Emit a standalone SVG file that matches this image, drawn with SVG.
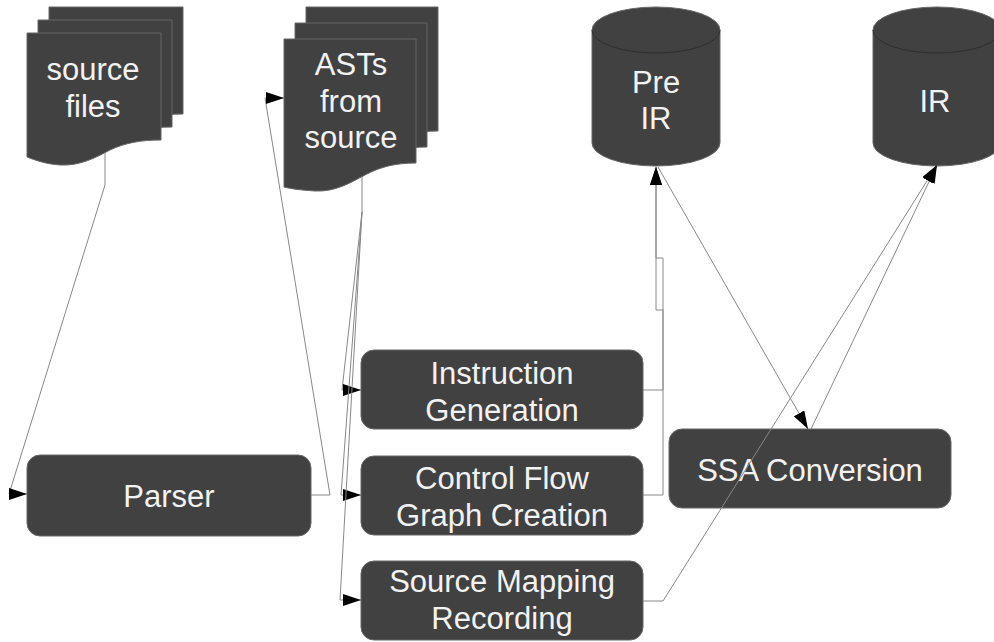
<svg xmlns="http://www.w3.org/2000/svg" width="994" height="642" viewBox="0 0 994 642">
  <style>
    .shape { fill: #414141; stroke: #666666; stroke-width: 1; }
    .lbl { fill: #f2f2f2; font-family: "Liberation Sans", Arial, sans-serif; font-size: 31px; text-anchor: middle; }
    .conn { fill: none; stroke: #888888; stroke-width: 1; }
    .rim { fill: none; stroke: #2e2e2e; stroke-width: 1; }
  </style>
  <defs>
    <marker id="arr" viewBox="0 0 18 12" refX="18" refY="6" markerWidth="18" markerHeight="12" markerUnits="userSpaceOnUse" orient="auto">
      <path d="M0,0 L18,6 L0,12 Z" fill="#000000"/>
    </marker>
    <path id="docS" d="M27,33 H161 V140 C140,140 125,143 110,150 C95,158 80,166 60,165 C45,164 35,160 27,157 Z"/>
    <path id="docA" d="M284,39 H416 V163 C395,163 380,167 365,175 C350,183 335,192 315,191 C300,190 292,189 284,187 Z"/>
  </defs>

  <rect width="994" height="642" fill="#ffffff"/>

  <g id="source-files">
    <use href="#docS" class="shape" transform="translate(22,-26)"/>
    <use href="#docS" class="shape" transform="translate(11,-13)"/>
    <use href="#docS" class="shape"/>
    <text class="lbl" x="93" y="80">source</text>
    <text class="lbl" x="93" y="117">files</text>
  </g>

  <g id="asts">
    <use href="#docA" class="shape" transform="translate(22,-32)"/>
    <use href="#docA" class="shape" transform="translate(11,-16)"/>
    <use href="#docA" class="shape"/>
    <text class="lbl" x="351" y="75">ASTs</text>
    <text class="lbl" x="351" y="112">from</text>
    <text class="lbl" x="351" y="148">source</text>
  </g>

  <g id="pre-ir">
    <path class="shape" d="M592,30 V143 A64,23 0 0 0 720,143 V30 A64,23 0 0 0 592,30 Z"/>
    <path class="rim" d="M592,30 A64,23 0 0 0 720,30"/>
    <text class="lbl" x="656" y="93">Pre</text>
    <text class="lbl" x="656" y="129">IR</text>
  </g>

  <g id="ir">
    <path class="shape" d="M873,30 V143 A64,23 0 0 0 1001,143 V30 A64,23 0 0 0 873,30 Z"/>
    <path class="rim" d="M873,30 A64,23 0 0 0 1001,30"/>
    <text class="lbl" x="935" y="112">IR</text>
  </g>

  <g id="parser">
    <rect class="shape" x="27" y="455" width="284" height="81" rx="13"/>
    <text class="lbl" x="169" y="507">Parser</text>
  </g>

  <g id="instruction-generation">
    <rect class="shape" x="361" y="350" width="282" height="79" rx="13"/>
    <text class="lbl" x="502" y="384">Instruction</text>
    <text class="lbl" x="502" y="421">Generation</text>
  </g>

  <g id="cfg-creation">
    <rect class="shape" x="361" y="456" width="282" height="79" rx="13"/>
    <text class="lbl" x="502" y="489">Control Flow</text>
    <text class="lbl" x="502" y="526">Graph Creation</text>
  </g>

  <g id="source-mapping">
    <rect class="shape" x="361" y="561" width="282" height="79" rx="13"/>
    <text class="lbl" x="502" y="592">Source Mapping</text>
    <text class="lbl" x="502" y="629">Recording</text>
  </g>

  <g id="ssa-conversion">
    <rect class="shape" x="669" y="429" width="282" height="79" rx="13"/>
    <text class="lbl" x="810" y="481">SSA Conversion</text>
  </g>

  <g id="connectors">
    <polyline class="conn" points="105,153 105,185 9,494 27,494" marker-end="url(#arr)"/>
    <polyline class="conn" points="311,495 330,495 265,98 284,98" marker-end="url(#arr)"/>
    <polyline class="conn" points="362,177 362,212 342,390 361,390" marker-end="url(#arr)"/>
    <polyline class="conn" points="362,212 341,495 361,495" marker-end="url(#arr)"/>
    <polyline class="conn" points="362,212 340,600 361,600" marker-end="url(#arr)"/>
    <polyline class="conn" points="643,390 663,390 663,258 656,258 656,167" marker-end="url(#arr)"/>
    <polyline class="conn" points="643,495 663,495 663,310 656,310 656,167" marker-end="url(#arr)"/>
    <line class="conn" x1="658" y1="167" x2="808" y2="429" marker-end="url(#arr)"/>
    <line class="conn" x1="811" y1="429" x2="937" y2="165" marker-end="url(#arr)"/>
    <polyline class="conn" points="643,601 663,601 937,165" marker-end="url(#arr)"/>
  </g>
</svg>
